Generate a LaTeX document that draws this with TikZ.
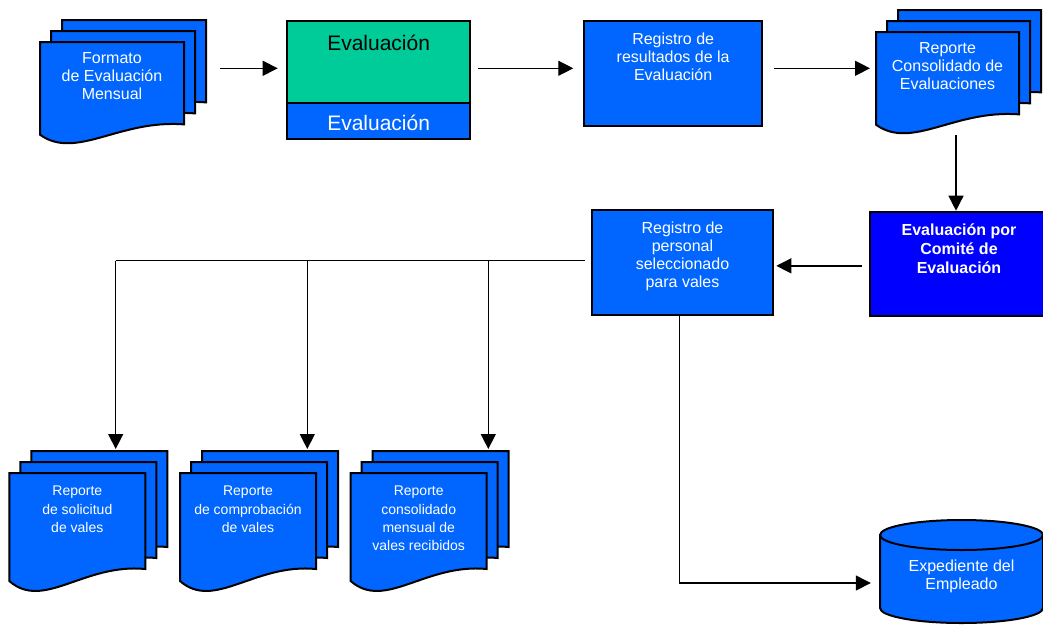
\documentclass[tikz,border=0pt]{standalone}
\usepackage{fontspec}
\setmainfont{Liberation Sans}
\usepackage{tikz}
\usetikzlibrary{arrows.meta}
\usetikzlibrary{calc}

\definecolor{docblue}{RGB}{0,102,255}
\definecolor{comiteblue}{RGB}{0,0,255}
\definecolor{evalgreen}{RGB}{0,204,153}

% one sheet with a wavy bottom: top-left x, y, width, height
\newcommand{\docsheet}[4]{%
  \draw[sheet] ({#1},{#2}) -- ++(#3,0) -- ++(0,{0.8*#4})
    .. controls ({#1+0.55*#3},{#2+0.75*#4}) and ({#1+0.25*#3},{#2+1.15*#4}) .. ({#1},{#2+0.9*#4}) -- cycle;}

% three stacked sheets: [text style] name, front x, front y, width, height, text
\newcommand{\docstack}[7][]{%
  \foreach \k in {2,1,0}{\docsheet{#3+\k*11}{#4-\k*11}{#5}{#6}}
  \node[stackarea, minimum width=#5+22, minimum height=#6+22] (#2) at ({#3+(#5+22)/2},{#4-22+(#6+22)/2}) {};
  \node[boxtext, #1] (#2-t) at ({#3+#5/2},{#4+10}) {#7};}

\begin{document}
\begin{tikzpicture}[x=1pt, y=-1pt,
    sheet/.style={draw=black, line width=2pt, fill=docblue},
    procbox/.style={draw=black, line width=2pt, fill=docblue, inner sep=0pt, outer sep=0pt},
    boxtext/.style={text=white, align=center, anchor=north, inner sep=0pt, font=\fontsize{16}{18}\selectfont},
    smalltext/.style={font=\fontsize{14}{18.3}\selectfont, yshift=-3},
    bigtext/.style={inner sep=0pt, font=\fontsize{21}{25}\selectfont},
    stackarea/.style={inner sep=0pt, outer sep=0pt},
    conn/.style={draw=black, line width=1.3pt},
    flow/.style={conn, -{Triangle[length=15pt, width=15pt]}}]

        \useasboundingbox (0,0) rectangle (1043,624);

        % top row
        \docstack{fmt}{40}{42}{144}{103}{Formato\\de Evaluación\\Mensual}

        \node[procbox, fill=evalgreen, minimum width=182.7, minimum height=82] (evalup) at (378.65,61.7) {};
        \node[procbox, minimum width=182.7, minimum height=36.6] (evallow) at (378.65,121) {};
        \node[bigtext] (evalup-t) at (378.65,43.3) {Evaluación};
        \node[bigtext, text=white] (evallow-t) at (378.65,123) {Evaluación};

        \node[procbox, minimum width=177.7, minimum height=105] (regres) at (673.15,73.5) {};
        \node[boxtext] (regres-t) at ([yshift=-12]regres.north) {Registro de\\resultados de la\\Evaluación};

        \docstack{con}{876}{32}{143}{103}{Reporte\\Consolidado de\\Evaluaciones}

        % middle row
        \node[procbox, fill=comiteblue, minimum width=178, minimum height=104.3] (comite) at (959,263.85) {};
        \node[boxtext, font=\fontsize{16}{18.7}\selectfont\bfseries] (comite-t) at ([yshift=-12]comite.north) {Evaluación por\\Comité de\\Evaluación};

        \node[procbox, minimum width=181.6, minimum height=105] (regper) at (682.5,262.5) {};
        \node[boxtext] (regper-t) at ([yshift=-12]regper.north) {Registro de\\personal\\seleccionado\\para vales};

        % bottom row
        \docstack[smalltext]{sol}{9.3}{473}{136}{120}{Reporte\\de solicitud\\de vales}
        \docstack[smalltext]{comp}{180}{473}{136}{120}{Reporte\\de comprobación\\de vales}
        \docstack[smalltext]{ves}{350.7}{473}{136}{120}{Reporte\\consolidado\\mensual de\\vales recibidos}

        \draw[sheet] (880,535) -- (880,608) arc[start angle=180, end angle=0, x radius=81.5, y radius=15] -- (1043,535) -- cycle;
        \draw[sheet] (961.5,535) ellipse [x radius=81.5, y radius=15];
        \node[boxtext, anchor=center, minimum width=163, minimum height=60] (exp) at (961.5,576) {Expediente del\\Empleado};

        % connectors
        \coordinate (row) at (0,68.3);
        \draw[flow, shorten <=14pt, shorten >=9.6pt] (fmt.east |- row) -- (evalup.west |- row);
        \draw[flow, shorten <=8pt, shorten >=11pt] (evalup.east |- row) -- (regres.west |- row);
        \draw[flow, shorten <=12pt, shorten >=6pt] (regres.east |- row) -- (con.west |- row);
        \draw[flow, shorten >=1pt] ([xshift=-3]comite.north |- con.south) -- ([xshift=-3]comite.north);
        \draw[flow, shorten <=8pt, shorten >=3pt] ([yshift=-2]comite.west) -- ([yshift=-2]comite.west -| regper.east);

        \coordinate (bus) at ([xshift=-7, yshift=2]regper.west);
        \coordinate (d1) at (115.7,0);
        \coordinate (d2) at (307.3,0);
        \coordinate (d3) at (488.3,0);
        \draw[conn] (bus) -- (bus -| d1);
        \draw[flow, shorten >=2pt] (bus -| d1) -- (d1 |- sol.north);
        \draw[flow, shorten >=2pt] (bus -| d2) -- (d2 |- comp.north);
        \draw[flow, shorten >=2pt] (bus -| d3) -- (d3 |- ves.north);

        \draw[flow, shorten >=9pt] ([xshift=-3]regper.south) |- ([yshift=-7]exp.west);

    \end{tikzpicture}
\end{document}
